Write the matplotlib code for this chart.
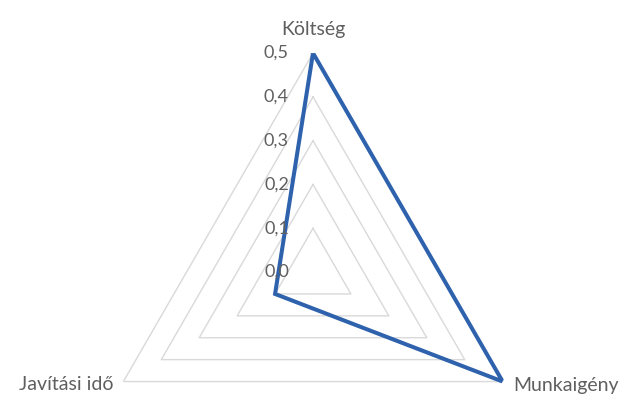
import numpy as np
import matplotlib
matplotlib.use('Agg')
import matplotlib.pyplot as plt

plt.rcParams['font.family'] = ['Lato', 'DejaVu Sans']

# adatok
kategoriak = ['Költség', 'Munkaigény', 'Javítási idő']
ertekek = [0.5, 0.5, 0.1]
racs = [0.1, 0.2, 0.3, 0.4, 0.5]
tick_cimkek = ['0,0', '0,1', '0,2', '0,3', '0,4', '0,5']
tick_ertekek = [0.0, 0.1, 0.2, 0.3, 0.4, 0.5]

n = len(kategoriak)
szogek = np.linspace(0, 2 * np.pi, n, endpoint=False)
szogek_z = np.append(szogek, szogek[0])

fig = plt.figure(figsize=(6.25, 3.96), dpi=100)
ax = fig.add_axes([0.1504, -0.240, 0.7008, 1.106], projection='polar')
ax.set_theta_offset(np.pi / 2)
ax.set_theta_direction(-1)
ax.set_ylim(0, 0.5)
ax.grid(False)
ax.spines['polar'].set_visible(False)
ax.set_xticks([])
ax.set_yticks([])
ax.patch.set_alpha(0)

# háromszög rács
for r in racs:
    ax.plot(szogek_z, [r] * (n + 1), color='#d9d9d9', lw=1.0, zorder=1)

# adatsor
ert_z = ertekek + [ertekek[0]]
ax.plot(szogek_z, ert_z, color='#2f62ad', lw=2.9, solid_joinstyle='miter', zorder=3)

gray = '#5f5f5f'
# tengely feliratok
for t, c in zip(tick_ertekek, tick_cimkek):
    ax.annotate(c, xy=(0, t), xytext=(-24, 0), textcoords='offset pixels',
                ha='right', va='center', fontsize=13, color=gray)

ax.annotate(kategoriak[0], xy=(szogek[0], 0.5), xytext=(0, 24), textcoords='offset pixels',
            ha='center', va='center', fontsize=14, color=gray, annotation_clip=False)
ax.annotate(kategoriak[1], xy=(szogek[1], 0.5), xytext=(11, -4), textcoords='offset pixels',
            ha='left', va='center', fontsize=14, color=gray, annotation_clip=False)
ax.annotate(kategoriak[2], xy=(szogek[2], 0.5), xytext=(-10, -3), textcoords='offset pixels',
            ha='right', va='center', fontsize=14, color=gray, annotation_clip=False)

fig.savefig('out.png', dpi=100)
